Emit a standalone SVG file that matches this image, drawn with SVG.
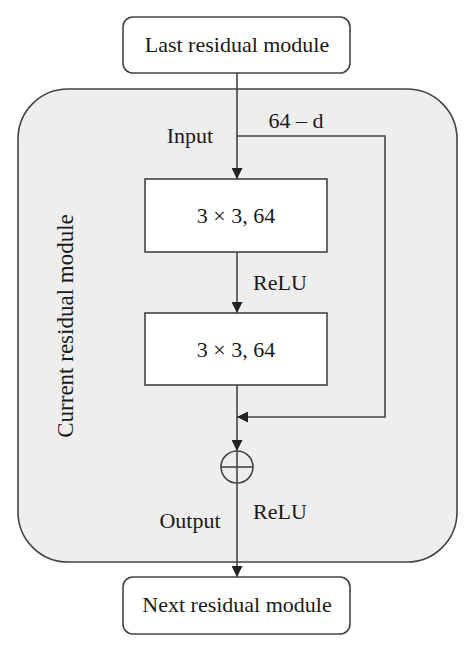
<svg xmlns="http://www.w3.org/2000/svg" width="474" height="652" viewBox="0 0 474 652">
<defs>
<style>
.t{font-family:"Liberation Serif","DejaVu Serif",serif;font-size:22px;fill:#1a1a1a}
.box{fill:#fff;stroke:#444;stroke-width:1.6}
.ln{fill:none;stroke:#444;stroke-width:1.6}
</style>
<marker id="ah" viewBox="0 0 10 10" refX="10" refY="5" markerWidth="11" markerHeight="11" markerUnits="userSpaceOnUse" orient="auto">
<path d="M0,0 L10,5 L0,10 Z" fill="#222"/>
</marker>
</defs>
<rect width="474" height="652" fill="#fff"/>
<g id="current-module">
<rect x="18" y="89" width="439" height="473" rx="50" fill="#eeeeee" stroke="#444" stroke-width="1.6"/>
<text class="t" transform="translate(73,326) rotate(-90)" text-anchor="middle" style="font-size:23px">Current residual module</text>
</g>
<g id="connectors">
<line class="ln" x1="237" y1="73" x2="237" y2="179" marker-end="url(#ah)"/>
<polyline class="ln" points="237,136 385,136 385,417 237,417" marker-end="url(#ah)"/>
<line class="ln" x1="237" y1="252" x2="237" y2="313" marker-end="url(#ah)"/>
<line class="ln" x1="237" y1="385" x2="237" y2="451" marker-end="url(#ah)"/>
<line class="ln" x1="237" y1="483" x2="237" y2="577" marker-end="url(#ah)"/>
<text class="t" x="190" y="143" text-anchor="middle">Input</text>
<text class="t" x="296" y="128" text-anchor="middle">64 – d</text>
<text class="t" x="253" y="290">ReLU</text>
<text class="t" x="253" y="519">ReLU</text>
<text class="t" x="190" y="528" text-anchor="middle">Output</text>
</g>
<g id="last-module">
<rect class="box" x="123" y="17" width="227" height="56" rx="10"/>
<text class="t" x="237" y="52" text-anchor="middle">Last residual module</text>
</g>
<g id="conv1">
<rect class="box" x="145" y="179" width="182" height="73"/>
<text class="t" x="236" y="223" text-anchor="middle">3 × 3, 64</text>
</g>
<g id="conv2">
<rect class="box" x="145" y="313" width="182" height="72"/>
<text class="t" x="236" y="357" text-anchor="middle">3 × 3, 64</text>
</g>
<g id="sum">
<circle cx="237" cy="467" r="16" fill="none" stroke="#444" stroke-width="1.6"/>
<line class="ln" x1="221" y1="467" x2="253" y2="467"/>
<line class="ln" x1="237" y1="451" x2="237" y2="483"/>
</g>
<g id="next-module">
<rect class="box" x="123" y="577" width="227" height="57" rx="10"/>
<text class="t" x="237" y="612" text-anchor="middle">Next residual module</text>
</g>
</svg>
